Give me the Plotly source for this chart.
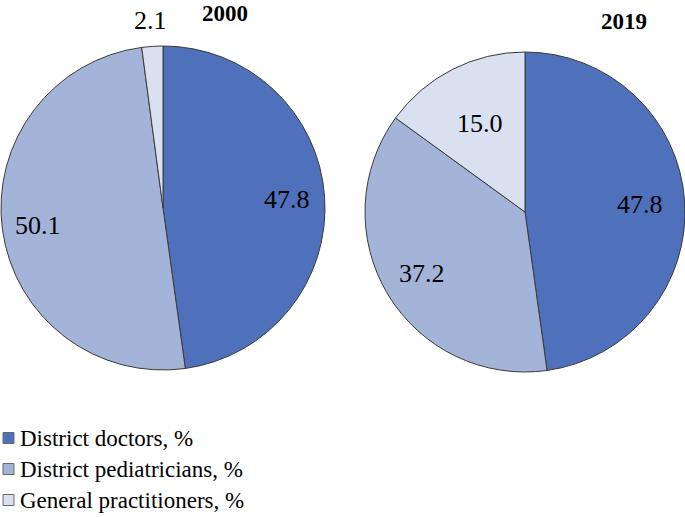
import math
import plotly.graph_objects as go

categories = ["District doctors, %", "District pediatricians, %", "General practitioners, %"]
values_2000 = [47.8, 50.1, 2.1]
values_2019 = [47.8, 37.2, 15.0]
years = ["2000", "2019"]
colors = ["#4F70BA", "#A4B4D9", "#D9E1F1"]

W, H = 685, 517
font_family = "Liberation Serif, Times New Roman, serif"

# pie geometry in pixels (center x, center y from top, radius)
pies = [
    dict(year=years[0], values=values_2000, cx=163, cy=208, r=162, label_r=[0.77, 0.78, 1.16], title_xy=(225, 0)),
    dict(year=years[1], values=values_2019, cx=525, cy=212, r=160, label_r=[0.72, 0.75, 0.62], title_xy=(624, 8)),
]


def px(x):
    return x / W


def py(y):
    return 1 - y / H


fig = go.Figure()
for p in pies:
    fig.add_trace(go.Pie(
        labels=categories, values=p["values"], sort=False, direction="clockwise", rotation=0,
        marker=dict(colors=colors, line=dict(color="#3a3a3a", width=1)),
        textinfo="none", showlegend=False, hoverinfo="label+value",
        domain=dict(x=[max(0, px(p["cx"] - p["r"])), min(1, px(p["cx"] + p["r"]))],
                    y=[py(p["cy"] + p["r"]), py(p["cy"] - p["r"])]),
    ))
    # value labels placed at each slice's mid angle
    total = sum(p["values"])
    cum = 0.0
    for v, lr in zip(p["values"], p["label_r"]):
        mid = (cum + v / 2) / total * 2 * math.pi
        cum += v
        lx = p["cx"] + math.sin(mid) * lr * p["r"]
        ly = p["cy"] - math.cos(mid) * lr * p["r"]
        fig.add_annotation(text=f"{v:.1f}", x=px(lx), y=py(ly), xref="paper", yref="paper",
                           xanchor="center", yanchor="middle", showarrow=False,
                           font=dict(family=font_family, size=26, color="black"))
    fig.add_annotation(text="<b>" + p["year"] + "</b>", x=px(p["title_xy"][0]), y=py(p["title_xy"][1]),
                       xref="paper", yref="paper", xanchor="center", yanchor="top", showarrow=False,
                       borderpad=0, font=dict(family=font_family, size=23, color="black"))

# legend drawn as squares + text
legend_y = [438, 469, 500]
for cat, col, ly in zip(categories, colors, legend_y):
    fig.add_shape(type="rect", xref="paper", yref="paper",
                  x0=px(3), x1=px(14), y0=py(ly + 5.5), y1=py(ly - 5.5),
                  fillcolor=col, line=dict(color="#6a6a6a", width=1))
    fig.add_annotation(text=cat, x=px(18), y=py(ly), xref="paper", yref="paper",
                       xanchor="left", yanchor="middle", showarrow=False,
                       font=dict(family=font_family, size=23, color="black"))

fig.update_layout(
    width=W, height=H, margin=dict(l=0, r=0, t=0, b=0),
    paper_bgcolor="white", plot_bgcolor="white",
    font=dict(family=font_family, color="black"),
    showlegend=False,
)

fig.write_html("out.html", config={"displayModeBar": False},
               post_script="document.body.style.margin='0';")
